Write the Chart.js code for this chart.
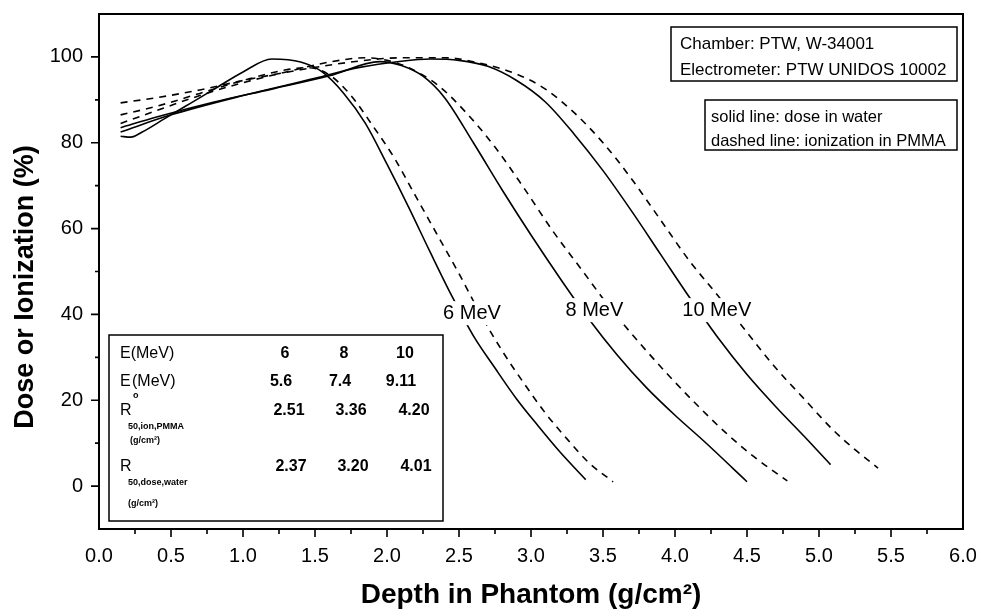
<!DOCTYPE html>
<html>
<head>
<meta charset="utf-8">
<script src="https://cdn.jsdelivr.net/npm/chart.js@4.4.1/dist/chart.umd.min.js"></script>
<style>
  html, body { margin: 0; padding: 0; background: #fff; }
  #wrap { width: 984px; height: 615px; }
</style>
</head>
<body>
<div id="wrap"><canvas id="depthChart"></canvas></div>
<script>
// depth (g/cm2) and relative value (%)
const dose6X = [0.15, 0.22, 0.3, 0.45, 0.6, 0.8, 1.0, 1.2, 1.4, 1.55, 1.7, 1.85, 2.0, 2.15, 2.3, 2.45, 2.6, 2.75, 2.9, 3.05, 3.2, 3.38];
const dose6Y = [81.5, 81.3, 82.5, 85.5, 88.5, 92.5, 96.5, 99.5, 98.8, 96.5, 91.5, 84.5, 75, 65, 54.5, 44.3, 35, 27.5, 20.3, 14, 8, 1.5];
const ion6X = [0.15, 0.4, 0.7, 1.0, 1.3, 1.45, 1.6, 1.75, 1.9, 2.05, 2.2, 2.35, 2.5, 2.65, 2.8, 2.95, 3.1, 3.25, 3.4, 3.57];
const ion6Y = [86.5, 88.5, 91.5, 94.5, 97, 97.5, 95.8, 91, 84, 76.5, 67.5, 58.5, 49.5, 40, 31.5, 24, 17, 11, 5.5, 1];

const dose8X = [0.15, 0.4, 0.8, 1.2, 1.6, 1.95, 2.1, 2.25, 2.4, 2.6, 2.8, 3.0, 3.2, 3.4, 3.6, 3.8, 4.0, 4.2, 4.4, 4.5];
const dose8Y = [83.5, 86, 89.5, 92.5, 95.6, 98.9, 98, 95.5, 90.5, 80, 69, 58.5, 48.5, 39, 30.5, 23, 16.5, 10.5, 4.2, 1];
const ion8X = [0.15, 0.4, 0.7, 1.0, 1.3, 1.6, 1.85, 2.0, 2.15, 2.35, 2.55, 2.75, 2.95, 3.15, 3.35, 3.55, 3.75, 3.95, 4.15, 4.35, 4.55, 4.78];
const ion8Y = [84.5, 87.5, 91, 94, 96.5, 98.8, 99.8, 99.2, 97.5, 93.5, 87, 79, 69.5, 59.5, 50.5, 41.5, 33.5, 26, 19, 12.5, 6.8, 1.2];

const dose10X = [0.15, 0.5, 1.0, 1.5, 1.8, 2.1, 2.3, 2.5, 2.7, 2.9, 3.1, 3.3, 3.5, 3.7, 3.9, 4.1, 4.3, 4.5, 4.7, 4.9, 5.08];
const dose10Y = [82.5, 86.5, 91, 95, 97.5, 99, 99.5, 99.2, 97.8, 94.5, 89.5, 82, 73.5, 64, 54, 44, 34.5, 26, 18.5, 11.5, 5];
const ion10X = [0.15, 0.4, 0.7, 1.0, 1.4, 1.8, 2.1, 2.4, 2.65, 2.9, 3.1, 3.3, 3.5, 3.7, 3.9, 4.1, 4.3, 4.5, 4.7, 4.9, 5.1, 5.25, 5.41];
const ion10Y = [89.3, 90.5, 92.3, 94.5, 97, 99, 99.8, 99.8, 98.5, 96, 92.5, 87, 80, 71.5, 62, 52.5, 44.3, 35.8, 27.5, 20.2, 13, 8.5, 4.2];

const xTicks = [0, 0.5, 1, 1.5, 2, 2.5, 3, 3.5, 4, 4.5, 5, 5.5, 6];
const yTicks = [0, 20, 40, 60, 80, 100];

// inset table
const tableEnergies = ['6', '8', '10'];
const tableE0 = ['5.6', '7.4', '9.11'];
const tableR50Ion = ['2.51', '3.36', '4.20'];
const tableR50Dose = ['2.37', '3.20', '4.01'];

const curveLabels = ['6 MeV', '8 MeV', '10 MeV'];

function toPoints(xs, ys) {
    return xs.map((x, i) => ({ x: x, y: ys[i] }));
}

function makeSet(label, xs, ys, dashed) {
    return {
        label: label,
        data: toPoints(xs, ys),
        borderColor: '#000',
        borderWidth: 1.6,
        borderDash: dashed ? [7, 6] : [],
        pointRadius: 0,
        fill: false,
        cubicInterpolationMode: 'monotone'
    };
}

const FONT = '"Liberation Sans", Arial, sans-serif';

const decorPlugin = {
    id: 'decor',
    afterDatasetsDraw(chart) {
        const ctx = chart.ctx;
        const a = chart.chartArea;
        const xs = chart.scales.x, ys = chart.scales.y;
        ctx.save();
        ctx.strokeStyle = '#000';
        ctx.fillStyle = '#000';

        // frame
        ctx.lineWidth = 2;
        ctx.strokeRect(a.left, a.top, a.right - a.left, a.bottom - a.top);

        // ticks
        ctx.lineWidth = 1.6;
        ctx.beginPath();
        for (let v = 0; v <= 100; v += 10) {
            const py = ys.getPixelForValue(v);
            const len = (v % 20 === 0) ? 8 : 4;
            ctx.moveTo(a.left, py); ctx.lineTo(a.left - len, py);
        }
        for (let i = 1; i < 24; i++) {
            const px = xs.getPixelForValue(i * 0.25);
            const len = (i % 2 === 0) ? 8 : 5;
            ctx.moveTo(px, a.bottom); ctx.lineTo(px, a.bottom + len);
        }
        ctx.stroke();

        // curve labels with white gaps
        ctx.font = '20px ' + FONT;
        ctx.textBaseline = 'middle';
        ctx.textAlign = 'center';
        const labelPos = [[2.59, 40.3], [3.44, 41], [4.29, 41]];
        curveLabels.forEach((t, i) => {
            const px = xs.getPixelForValue(labelPos[i][0]);
            const py = ys.getPixelForValue(labelPos[i][1]);
            const w = ctx.measureText(t).width;
            ctx.fillStyle = '#fff';
            ctx.fillRect(px - w / 2 - 3, py - 12, w + 6, 24);
            ctx.fillStyle = '#000';
            ctx.fillText(t, px, py);
        });

        // info boxes
        ctx.lineWidth = 1.5;
        ctx.textAlign = 'left';
        ctx.fillStyle = '#fff';
        ctx.fillRect(671, 27, 286, 54);
        ctx.strokeRect(671, 27, 286, 54);
        ctx.fillRect(705, 100, 252, 50);
        ctx.strokeRect(705, 100, 252, 50);
        ctx.fillStyle = '#000';
        ctx.font = '17px ' + FONT;
        ctx.fillText('Chamber: PTW, W-34001', 680, 44);
        ctx.fillText('Electrometer: PTW UNIDOS 10002', 680, 70);
        ctx.font = '16.5px ' + FONT;
        ctx.fillText('solid line: dose in water', 711, 117);
        ctx.fillText('dashed line: ionization in PMMA', 711, 141);

        // table
        ctx.fillStyle = '#fff';
        ctx.fillRect(109, 335, 334, 186);
        ctx.strokeRect(109, 335, 334, 186);
        ctx.fillStyle = '#000';
        ctx.font = '16px ' + FONT;
        ctx.fillText('E(MeV)', 120, 354);
        ctx.fillText('E', 120, 382);
        ctx.fillText('(MeV)', 132, 382);
        ctx.fillText('R', 120, 411);
        ctx.fillText('R', 120, 467);
        ctx.font = 'bold 9px ' + FONT;
        ctx.fillText('o', 133, 396);
        ctx.fillText('50,ion,PMMA', 128, 427);
        ctx.fillText('(g/cm\u00b2)', 130, 441);
        ctx.fillText('50,dose,water', 128, 483);
        ctx.fillText('(g/cm\u00b2)', 128, 504);
        ctx.font = 'bold 16px ' + FONT;
        ctx.textAlign = 'center';
        const colTop = [285, 344, 405];
        const colBottom = [289, 351, 414];
        tableEnergies.forEach((t, i) => ctx.fillText(t, colTop[i], 354));
        tableE0.forEach((t, i) => ctx.fillText(t, colTop[i] - 4, 382));
        tableR50Ion.forEach((t, i) => ctx.fillText(t, colBottom[i], 411));
        tableR50Dose.forEach((t, i) => ctx.fillText(t, colBottom[i] + 2, 467));

        // axis titles
        ctx.font = 'bold 28px ' + FONT;
        ctx.textAlign = 'center';
        ctx.fillText('Depth in Phantom (g/cm\u00b2)', (a.left + a.right) / 2, 595);
        ctx.font = 'bold 27px ' + FONT;
        ctx.translate(26, 287);
        ctx.rotate(-Math.PI / 2);
        ctx.fillText('Dose or Ionization (%)', 0, 0);
        ctx.restore();
    }
};

new Chart(document.getElementById('depthChart'), {
    type: 'line',
    data: {
        datasets: [
            makeSet('6 MeV dose', dose6X, dose6Y, false),
            makeSet('6 MeV ionization', ion6X, ion6Y, true),
            makeSet('8 MeV dose', dose8X, dose8Y, false),
            makeSet('8 MeV ionization', ion8X, ion8Y, true),
            makeSet('10 MeV dose', dose10X, dose10Y, false),
            makeSet('10 MeV ionization', ion10X, ion10Y, true)
        ]
    },
    options: {
        responsive: true,
        maintainAspectRatio: false,
        animation: false,
        layout: { padding: { left: 0, top: 14, right: 21, bottom: 0 } },
        plugins: {
            legend: { display: false },
            tooltip: { enabled: false }
        },
        scales: {
            x: {
                type: 'linear',
                min: 0,
                max: 6,
                grid: { display: false, drawTicks: false },
                border: { display: false },
                afterBuildTicks: (s) => { s.ticks = xTicks.map(v => ({ value: v })); },
                afterFit: (s) => { s.height = 86; s.paddingLeft = 0; s.paddingRight = 0; },
                ticks: {
                    padding: 15,
                    color: '#000',
                    font: { family: FONT, size: 20 },
                    maxRotation: 0,
                    callback: (v) => Number(v).toFixed(1)
                }
            },
            y: {
                type: 'linear',
                min: -10,
                max: 110,
                grid: { display: false, drawTicks: false },
                border: { display: false },
                afterBuildTicks: (s) => { s.ticks = yTicks.map(v => ({ value: v })); },
                afterFit: (s) => { s.width = 99; s.paddingTop = 0; s.paddingBottom = 0; },
                ticks: {
                    padding: 16,
                    color: '#000',
                    font: { family: FONT, size: 20 }
                }
            }
        }
    },
    plugins: [decorPlugin]
});
</script>
</body>
</html>
